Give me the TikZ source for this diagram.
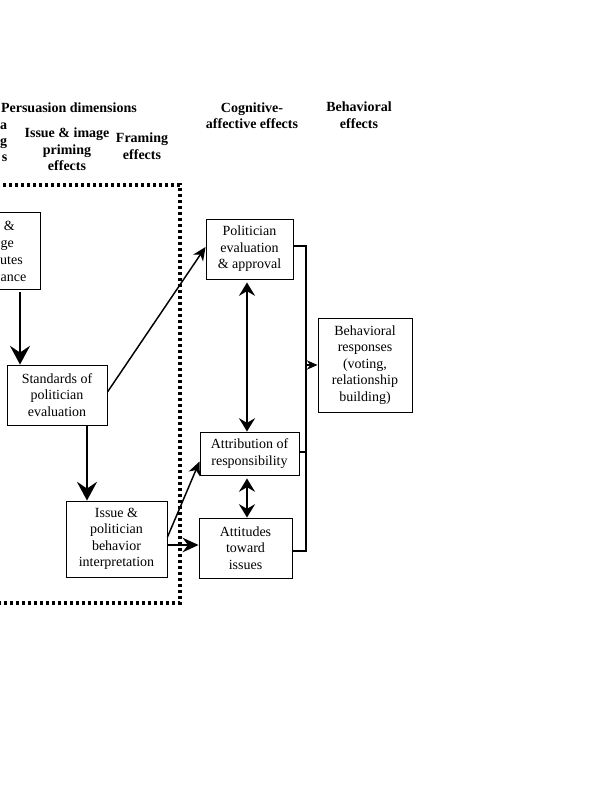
\documentclass[tikz,border=0pt]{standalone}
\usepackage{fontspec}
\setmainfont{Liberation Serif}
\usetikzlibrary{arrows.meta,calc}
\tikzset{
 box/.style={draw, line width=0.7pt, align=center, inner sep=0pt, font=\fontsize{10.5}{12.4}\selectfont},
 hdr/.style={align=center, inner sep=0pt, font=\fontsize{10.5}{12.4}\selectfont\bfseries},
 frag/.style={inner sep=0pt, font=\fontsize{10.5}{12.4}\selectfont},
 bigarrow/.style={line width=2pt, -{Stealth[length=14pt,width=15pt,inset=5pt]}},
 dblarrow/.style={line width=1.5pt, {Stealth[length=10pt,width=12pt,inset=3.5pt]}-{Stealth[length=10pt,width=12pt,inset=3.5pt]}},
 thinarrow/.style={line width=1.1pt, -{Stealth[length=10pt,width=9pt,inset=3pt]}},
 medarrow/.style={line width=1.1pt, -{Stealth[length=12pt,width=11pt,inset=4pt]}},
 smallarrow/.style={line width=1.1pt, -{Stealth[length=8pt,width=7pt,inset=2.5pt]}},
 link/.style={line width=1.1pt},
 dotbox/.style={line width=2.3pt, dash pattern=on 2.3pt off 2.2pt},
}
\begin{document}
\begin{tikzpicture}[x=0.75pt,y=-0.75pt]
\useasboundingbox (0,0) rectangle (602,800);

% headers
\node[hdr, anchor=west] (hpers) at (0.8,108) {Persuasion dimensions};
\node[hdr, anchor=base east] (hfa) at (7.5,129) {a};
\node[hdr, anchor=base east] (hfg) at (7.5,145) {g};
\node[hdr, anchor=base east] (hfs) at (7.5,161) {s};
\node[hdr] (hprim) at (67,149.5) {Issue \& image\\priming\\effects};
\node[hdr] (hfram) at (142,146) {Framing\\effects};
\node[hdr] (hcog) at (252,115.5) {Cognitive-\\affective effects};
\node[hdr] (hbeh) at (359,115) {Behavioral\\effects};

% dotted frame
\draw[dotbox] (-10,185) rectangle (180,603);

% boxes
\node[box, minimum width=67.5pt, minimum height=57.75pt] (attrsal) at (-5,250.5) {};
\node[frag, anchor=base east] (fr1) at (15,230.5) {\&};
\node[frag, anchor=base east] (fr2) at (14,247.5) {ge};
\node[frag, anchor=base east] (fr3) at (23,264.5) {utes};
\node[frag, anchor=base east] (fr4) at (26.5,281.5) {ance};

\node[box, minimum width=75pt, minimum height=45pt] (std) at (57,395) {Standards of\\politician\\evaluation};
\node[box, minimum width=75.75pt, minimum height=57pt] (interp) at (116.5,539) {Issue \&\\politician\\behavior\\interpretation};
\node[box, minimum width=65.25pt, minimum height=45pt] (pol) at (249.5,249) {Politician\\evaluation\\\& approval};
\node[box, minimum width=74.25pt, minimum height=32.25pt] (attr) at (249.5,453.5) {Attribution of\\responsibility};
\node[box, minimum width=69.75pt, minimum height=45pt] (att) at (245.5,548) {Attitudes\\toward\\issues};
\node[box, minimum width=70.5pt, minimum height=70.5pt] (beh) at (365,365) {Behavioral\\responses\\(voting,\\relationship\\building)};

% helper coordinates
\coordinate (xa) at (20,0);
\coordinate (xb) at (87,0);
\coordinate (xc) at (247,0);
\coordinate (bx) at (306,0);

% connectors
\draw[bigarrow] ($(attrsal.south -| xa)+(0,3)$) -- (std.north -| xa);
\draw[bigarrow] (std.south -| xb) -- (interp.north -| xb);
\draw[thinarrow] ($(std.east)+(0,-3)$) -- ($(pol.west)+(0,-2)$);
\draw[thinarrow] ($(interp.east)+(0,-2)$) -- ($(attr.west)+(0,8)$);
\draw[medarrow] ($(interp.east |- att.west)+(0,-3)$) -- ($(att.west)+(0,-3)$);
\draw[dblarrow] ($(pol.south -| xc)+(0,3)$) -- (attr.north -| xc);
\draw[dblarrow] ($(attr.south -| xc)+(0,3)$) -- (att.north -| xc);
\draw[link] ($(pol.east)+(0,-3)$) -- ($(pol.east -| bx)+(0,-3)$) -- ($(att.east -| bx)+(0,3)$) -- ($(att.east)+(0,3)$);
\draw[link] ($(attr.east)+(0,-1.5)$) -- ($(attr.east -| bx)+(0,-1.5)$);
\draw[smallarrow] (beh.west -| bx) -- (beh.west);
\end{tikzpicture}
\end{document}
